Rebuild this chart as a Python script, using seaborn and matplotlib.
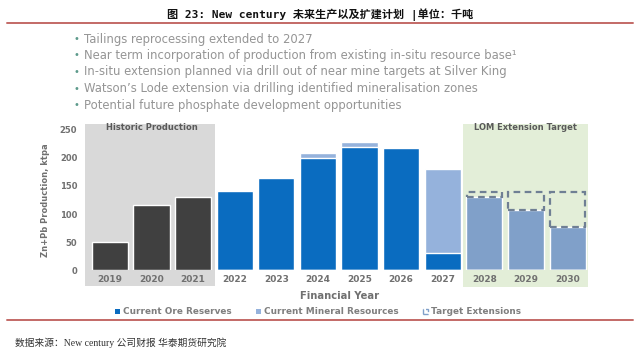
import matplotlib
matplotlib.use("Agg")
import matplotlib.pyplot as plt
import seaborn as sns
import pandas as pd
import numpy as np
from matplotlib.patches import Patch, Rectangle
from matplotlib.lines import Line2D

# ---- data ----
years = ["2019", "2020", "2021", "2022", "2023", "2024", "2025", "2026", "2027", "2028", "2029", "2030"]
historic = [50, 116, 130, 0, 0, 0, 0, 0, 0, 0, 0, 0]
ore_reserves = [0, 0, 0, 141, 165, 200, 220, 218, 30, 0, 0, 0]
mineral_resources = [0, 0, 0, 0, 0, 9, 9, 0, 150, 131, 107, 76]
target_ext = [0, 0, 0, 0, 0, 0, 0, 0, 0, 9, 33, 64]
y_ticks = [0, 50, 100, 150, 200, 250]

title = "图 23: New century 未来生产以及扩建计划 |单位：千吨"
bullets = [
    "Tailings reprocessing extended to 2027",
    "Near term incorporation of production from existing in-situ resource base¹",
    "In-situ extension planned via drill out of near mine targets at Silver King",
    "Watson’s Lode extension via drilling identified mineralisation zones",
    "Potential future phosphate development opportunities",
]
source = "数据来源：New century 公司财报 华泰期货研究院"

df = pd.DataFrame({
    "year": years,
    "historic": historic,
    "ore": ore_reserves,
    "res": mineral_resources,
    "target": target_ext,
})
df["ore_res"] = df["ore"] + df["res"]

sns.set_theme(style="white")
plt.rcParams["font.family"] = ["DejaVu Sans", "Noto Sans CJK SC"]

W, H = 640, 355
fig = plt.figure(figsize=(6.4, 3.55), dpi=100)
x0, x1 = 85, 588.4
y0, y1 = 270, 130
ax = fig.add_axes([x0 / W, 1 - y0 / H, (x1 - x0) / W, (y0 - y1) / H])

C_HIST = "#404040"
C_ORE = "#0a6cc0"
C_RES = "#95b2dc"
C_RES_LOM = "#80a0c9"
C_TGT = "#6f7f94"
C_TXT = "#707070"

# background regions
ax.add_patch(Rectangle((-0.6, -28), 3.12, 289, facecolor="#d9d9d9", edgecolor="none",
                       clip_on=False, zorder=0))
ax.add_patch(Rectangle((8.49, -30), 3.0, 291, facecolor="#e3eed8", edgecolor="none",
                       clip_on=False, zorder=0))

bw = 0.87
sns.barplot(data=df, x="year", y="ore_res", order=years, color=C_RES, width=bw,
            saturation=1, ax=ax, zorder=2)
# resource bars inside the LOM extension zone are a slightly deeper shade
for i, p in enumerate(ax.patches[2:]):
    if i >= 9:
        p.set_facecolor(C_RES_LOM)
sns.barplot(data=df, x="year", y="ore", order=years, color=C_ORE, width=bw,
            saturation=1, ax=ax, zorder=3)
sns.barplot(data=df, x="year", y="historic", order=years, color=C_HIST, width=bw,
            saturation=1, ax=ax, zorder=3)

# target extension dashed boxes
pos = np.arange(len(years))
tgt = np.array(target_ext, dtype=float)
base = np.array(ore_reserves, dtype=float) + np.array(mineral_resources, dtype=float)
m = tgt > 0
ax.bar(pos[m], tgt[m], bottom=base[m], width=bw * 0.97, fill=False, edgecolor=C_TGT,
       linestyle=(0, (3, 2)), linewidth=1.6, zorder=4)

ax.set_xlim(-0.6, 11.5)
ax.set_ylim(0, 250)
ax.set_yticks(y_ticks)
ax.set_yticklabels([str(v) for v in y_ticks])
for s in ax.spines.values():
    s.set_visible(False)
ax.tick_params(axis="both", length=0, labelcolor=C_TXT)
ax.tick_params(axis="x", pad=3.5, labelsize=6.5)
ax.tick_params(axis="y", pad=5.5, labelsize=6.0)
for lab in ax.get_xticklabels() + ax.get_yticklabels():
    lab.set_fontweight("bold")

ax.set_xlabel("Financial Year", fontsize=7.2, color=C_TXT, fontweight="bold")
ax.xaxis.set_label_coords((340 - x0) / (x1 - x0), (y0 - 291) / (y0 - y1))
ax.set_ylabel("Zn+Pb Production, ktpa", fontsize=6, color=C_TXT, fontweight="bold")
ax.yaxis.set_label_coords((50 - x0) / (x1 - x0), 0.5)

ax.text(1.0, 254, "Historic Production", ha="center", va="center", fontsize=6,
        color="#5a5a5a", fontweight="bold")
ax.text(9.99, 254, "LOM Extension Target", ha="center", va="center", fontsize=6,
        color="#5a5a5a", fontweight="bold")

# legend
handles = [
    Patch(facecolor=C_ORE, edgecolor="none", label="Current Ore Reserves"),
    Patch(facecolor=C_RES, edgecolor="none", label="Current Mineral Resources"),
    Patch(facecolor="none", edgecolor=C_RES_LOM, linestyle="--", linewidth=1.0,
          label="Target Extensions"),
]
leg = fig.legend(handles=handles, loc="center", bbox_to_anchor=(318 / W, 1 - 312 / H),
                 ncol=3, frameon=False, fontsize=6.4, handlelength=0.55, handleheight=0.55,
                 handletextpad=0.3, columnspacing=2.8)
for t in leg.get_texts():
    t.set_color("#7f7f7f")
    t.set_fontweight("bold")

# title & rules
fig.text(320 / W, 1 - 15 / H, title, ha="center", va="center", fontsize=8,
         fontweight="bold", color="#111111",
         family=["DejaVu Sans Mono", "Noto Sans CJK SC"])
fig.add_artist(Line2D([7 / W, 633 / W], [1 - 23 / H, 1 - 23 / H], color="#b9504c",
                      linewidth=1.4, alpha=0.85))
fig.add_artist(Line2D([7 / W, 633 / W], [1 - 320 / H, 1 - 320 / H], color="#b9504c",
                      linewidth=1.4, alpha=0.85))

# bullets
for i, b in enumerate(bullets):
    yy = 1 - (39 + 16.5 * i) / H
    fig.text(76 / W, yy, "•", ha="center", va="center", fontsize=7, color="#5e9b8c")
    fig.text(84 / W, yy, b, ha="left", va="center", fontsize=8.4, color="#959595")

fig.text(15 / W, 1 - 343 / H, source, ha="left", va="center", fontsize=7, color="#333333",
         family=["Liberation Serif", "Noto Sans CJK SC"])

fig.savefig("out.png", dpi=100)
